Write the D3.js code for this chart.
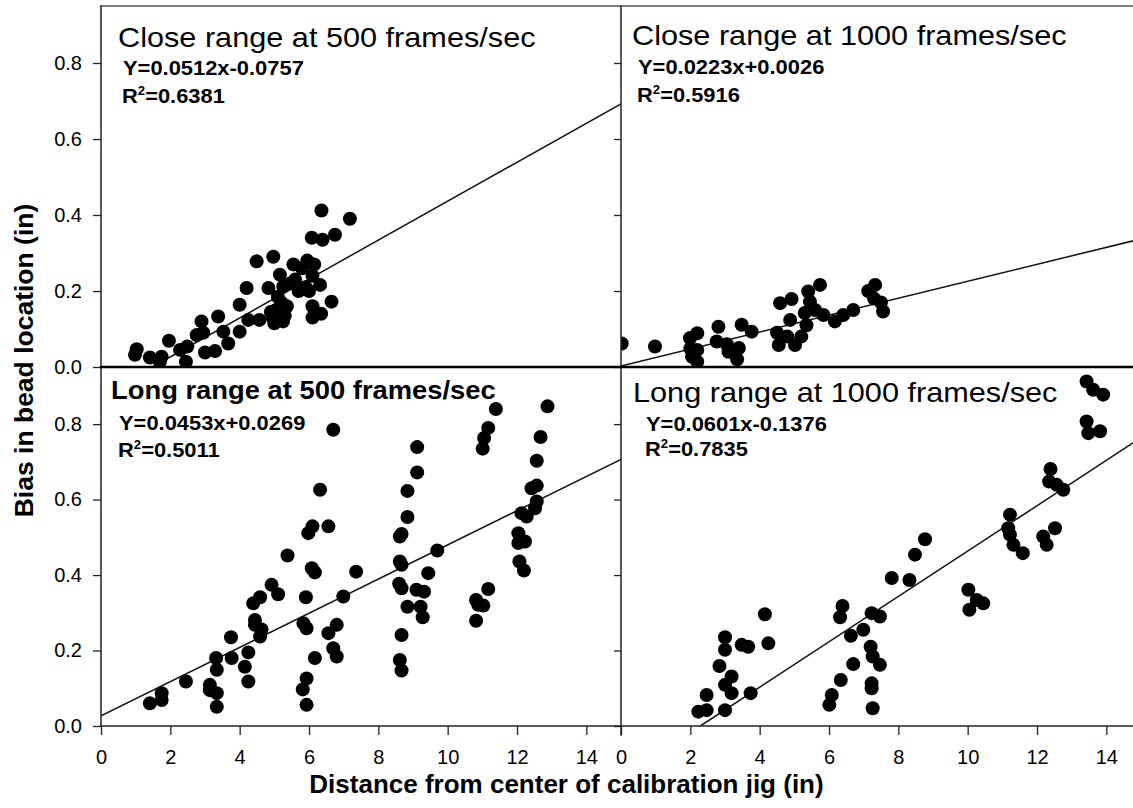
<!DOCTYPE html>
<html><head><meta charset="utf-8">
<script src="https://cdn.jsdelivr.net/npm/d3@7"></script>
<style>
body{margin:0;background:#fff;}
text{font-family:"Liberation Sans",Arial,Helvetica,sans-serif;fill:#000;}
</style>
</head><body>
<svg id="chart" width="1133" height="808"></svg>
<script>
// ---------------- DATA ----------------
const panelTitles = ["Close range at 500 frames/sec", "Close range at 1000 frames/sec",
                     "Long range at 500 frames/sec", "Long range at 1000 frames/sec"];
const equationLabels = ["Y=0.0512x-0.0757", "Y=0.0223x+0.0026", "Y=0.0453x+0.0269", "Y=0.0601x-0.1376"];
const r2Labels = ["=0.6381", "=0.5916", "=0.5011", "=0.7835"];
const slopes = [0.0512, 0.0223, 0.0453, 0.0601];
const intercepts = [-0.0757, 0.0026, 0.0269, -0.1376];
const xTicks = [0, 2, 4, 6, 8, 10, 12, 14];
const yTicks = [0, 0.2, 0.4, 0.6, 0.8];
const xTitle = "Distance from center of calibration jig (in)";
const yTitle = "Bias in bead location (in)";

const closeRange500 = [
 [0.98,0.032],[1.03,0.047],[1.41,0.025],[1.70,0.014],[1.75,0.027],[1.96,0.069],[2.28,0.045],[2.45,0.014],
 [2.49,0.054],[2.76,0.084],[2.90,0.12],[2.95,0.09],[3.0,0.038],[3.29,0.042],[3.38,0.133],[3.53,0.093],
 [3.67,0.062],[4.0,0.093],[4.0,0.164],[4.2,0.208],[4.25,0.124],[4.49,0.278],[4.57,0.124],[4.83,0.208],
 [4.97,0.29],[4.95,0.13],[5.0,0.115],[5.05,0.15],[5.16,0.243],[5.26,0.212],[5.36,0.16],[5.3,0.135],
 [5.25,0.12],[5.55,0.27],[5.6,0.23],[5.7,0.2],[5.8,0.26],[5.95,0.28],[6.1,0.24],[6.15,0.27],[5.9,0.21],
 [6.0,0.2],[6.1,0.16],[6.1,0.13],[6.35,0.14],[6.08,0.34],[6.39,0.335],[6.75,0.348],[6.36,0.412],[7.18,0.39],
 [6.32,0.216],[6.65,0.172],[5.1,0.185],[5.2,0.17],[4.9,0.145],[5.45,0.22]
];
const closeRange1000 = [
 [0.02,0.062],[0.98,0.054],[1.99,0.076],[2.2,0.089],[2.0,0.049],[2.2,0.045],[2.05,0.027],[2.2,0.014],
 [2.81,0.106],[2.76,0.067],[3.05,0.06],[3.1,0.04],[3.4,0.05],[3.35,0.02],[3.48,0.111],[3.77,0.093],
 [4.59,0.168],[4.92,0.179],[4.5,0.09],[4.55,0.058],[4.8,0.08],[4.88,0.124],[5.02,0.058],[5.2,0.08],
 [5.4,0.199],[5.74,0.216],[5.45,0.172],[5.3,0.142],[5.35,0.11],[5.6,0.15],[5.84,0.137],[6.17,0.12],
 [6.41,0.137],[6.7,0.15],[7.13,0.2],[7.33,0.216],[7.3,0.18],[7.5,0.17],[7.56,0.146]
];
const longRange500 = [
 [1.41,0.06],[1.75,0.087],[1.75,0.069],[2.45,0.118],[3.32,0.18],[3.34,0.149],[3.14,0.109],[3.14,0.095],
 [3.34,0.087],[3.34,0.051],[3.75,0.235],[3.77,0.18],[4.25,0.195],[4.15,0.157],[4.25,0.118],[4.39,0.325],
 [4.59,0.341],[4.44,0.281],[4.44,0.268],[4.63,0.256],[4.59,0.237],[4.92,0.374],[5.11,0.349],[5.38,0.452],
 [5.91,0.341],[5.84,0.272],[5.93,0.259],[5.98,0.511],[6.1,0.529],[6.08,0.418],[6.17,0.407],[6.32,0.626],
 [6.56,0.529],[6.7,0.785],[5.93,0.126],[5.82,0.097],[5.93,0.056],[6.17,0.18],[6.56,0.246],[6.8,0.268],
 [6.7,0.206],[6.8,0.184],[6.99,0.343],[7.36,0.409],
 [8.62,0.502],[8.67,0.509],[8.62,0.436],[8.67,0.427],[8.6,0.377],[8.67,0.365],[8.84,0.316],[8.67,0.241],
 [8.62,0.175],[8.67,0.147],[8.84,0.554],[8.84,0.623],[9.12,0.672],[9.12,0.739],[9.1,0.361],[9.32,0.356],
 [9.22,0.316],[9.28,0.288],[9.44,0.405],[9.7,0.465],[10.82,0.334],[10.88,0.321],[11.03,0.319],[10.82,0.279],
 [11.17,0.363],[11.01,0.735],[11.05,0.763],[11.17,0.79],[11.39,0.84],[12.04,0.511],[12.04,0.485],[12.23,0.489],
 [12.07,0.436],[12.2,0.412],[12.13,0.564],[12.28,0.555],[12.52,0.577],[12.57,0.595],[12.42,0.63],[12.57,0.637],
 [12.57,0.703],[12.68,0.766],[12.88,0.847]
];
const longRange1000 = [
 [2.23,0.038],[2.47,0.042],[2.47,0.082],[2.84,0.159],[3.0,0.235],[3.0,0.202],[3.0,0.109],[3.19,0.131],
 [3.19,0.087],[3.0,0.042],[3.48,0.215],[3.67,0.21],[3.74,0.087],[4.15,0.296],[4.25,0.219],[6.01,0.056],
 [6.08,0.082],[6.34,0.122],[6.39,0.318],[6.32,0.288],[6.63,0.239],[6.7,0.164],[6.99,0.255],[7.23,0.299],
 [7.47,0.29],[7.2,0.21],[7.26,0.184],[7.47,0.162],[7.23,0.113],[7.23,0.1],[7.26,0.047],[7.81,0.392],
 [8.32,0.387],[8.48,0.454],[8.77,0.495],[10.02,0.361],[10.26,0.334],[10.45,0.325],[10.05,0.308],[11.22,0.56],
 [11.17,0.524],[11.22,0.507],[11.32,0.48],[11.59,0.458],[12.18,0.502],[12.28,0.48],[12.52,0.524],[12.39,0.681],
 [12.35,0.648],[12.57,0.639],[12.76,0.626],[13.43,0.807],[13.48,0.776],[13.82,0.781],[13.43,0.913],[13.62,0.891],
 [13.91,0.878]
];
const panelData = [closeRange500, closeRange1000, longRange500, longRange1000];

// ---------------- LAYOUT ----------------
const svg = d3.select("#chart");
const xLeft = [101, 621], xWidth = 520;
const yRanges = [[367, 6], [726, 367.5]];
const fontFam = '"Liberation Sans",Arial,Helvetica,sans-serif';
const sx = 1.095; // horizontal stretch of annotation text

const panels = [
  {col:0,row:0, tx:118, ty:47, tBold:false, tSize:28, ex:123, ey:75, ry:103},
  {col:1,row:0, tx:632, ty:45, tBold:false, tSize:28, ex:638, ey:74, ry:102},
  {col:0,row:1, tx:111, ty:399, tBold:true, tSize:25, ex:119, ey:430, ry:457},
  {col:1,row:1, tx:633, ty:402, tBold:false, tSize:28, ex:646, ey:430.5, ry:456}
];

const defs = svg.append("defs");

panels.forEach((p, i) => {
  const x = d3.scaleLinear().domain([0, 15]).range([xLeft[p.col], xLeft[p.col] + xWidth]);
  const y = d3.scaleLinear().domain([0, 0.95]).range(yRanges[p.row]);
  const clipId = "clip" + i;
  defs.append("clipPath").attr("id", clipId).append("rect")
    .attr("x", x(0)).attr("y", y(0.95)).attr("width", xWidth).attr("height", y(0) - y(0.95));

  const g = svg.append("g").attr("clip-path", `url(#${clipId})`);
  // regression line
  const m = slopes[i], b = intercepts[i];
  const x0 = Math.max(0, -b / m);
  g.append("line")
    .attr("x1", x(x0)).attr("y1", y(m * x0 + b))
    .attr("x2", x(15)).attr("y2", y(m * 15 + b))
    .attr("stroke", "#111").attr("stroke-width", 1.5);
  // points
  g.selectAll("circle").data(panelData[i]).join("circle")
    .attr("cx", d => x(d[0])).attr("cy", d => y(d[1])).attr("r", 7).attr("fill", "#000");

  // y axis ticks
  const yAxis = d3.axisLeft(y).tickValues(yTicks).tickSizeOuter(0)
    .tickSize(p.col === 0 ? 8 : 7).tickPadding(11)
    .tickFormat(p.col === 0 ? d3.format(".1f") : () => "");
  const ya = svg.append("g").attr("transform", `translate(${x(0)},0)`).call(yAxis);
  ya.select(".domain").remove();
  ya.selectAll("line").attr("stroke", "#222").attr("stroke-width", 1.3);
  ya.selectAll("text").attr("font-size", 20).attr("font-family", fontFam).attr("fill", "#111");

  if (p.row === 1) {
    const xAxis = d3.axisBottom(x).tickValues(xTicks).tickSizeOuter(0).tickSize(9).tickPadding(15)
      .tickFormat(d3.format("d"));
    const xa = svg.append("g").attr("transform", `translate(0,${y(0)})`).call(xAxis);
    xa.select(".domain").remove();
    xa.selectAll("line").attr("stroke", "#222").attr("stroke-width", 1.3);
    xa.selectAll("text").attr("font-size", 20).attr("font-family", fontFam).attr("fill", "#111");
  }

  // annotations
  svg.append("text").attr("transform", `translate(${p.tx},${p.ty}) scale(${sx},1)`)
    .attr("font-size", p.tSize).attr("font-weight", p.tBold ? "bold" : "normal")
    .text(panelTitles[i]);
  svg.append("text").attr("transform", `translate(${p.ex},${p.ey}) scale(${sx},1)`)
    .attr("font-size", 20).attr("font-weight", "bold").text(equationLabels[i]);
  const r = svg.append("text").attr("transform", `translate(${p.ex - 1},${p.ry}) scale(${sx},1)`)
    .attr("font-size", 20).attr("font-weight", "bold");
  r.append("tspan").text("R");
  r.append("tspan").attr("font-size", 12).attr("dy", -8).text("2");
  r.append("tspan").attr("dy", 8).text(r2Labels[i]);
});

// frame lines
const frame = svg.append("g").attr("stroke-linecap", "square");
frame.append("line").attr("x1", 101).attr("x2", 1133).attr("y1", 6).attr("y2", 6)
  .attr("stroke", "#555").attr("stroke-width", 1.6);
frame.append("line").attr("x1", 101).attr("x2", 101).attr("y1", 6).attr("y2", 726)
  .attr("stroke", "#222").attr("stroke-width", 1.5);
frame.append("line").attr("x1", 621).attr("x2", 621).attr("y1", 6).attr("y2", 735)
  .attr("stroke", "#222").attr("stroke-width", 1.5);
frame.append("line").attr("x1", 101).attr("x2", 1133).attr("y1", 367).attr("y2", 367)
  .attr("stroke", "#000").attr("stroke-width", 2.4);
frame.append("line").attr("x1", 101).attr("x2", 1133).attr("y1", 726).attr("y2", 726)
  .attr("stroke", "#222").attr("stroke-width", 1.5);

// axis titles
svg.append("text").attr("x", 566.5).attr("y", 793).attr("text-anchor", "middle")
  .attr("font-size", 26).attr("font-weight", "bold").text(xTitle);
svg.append("text").attr("transform", "translate(33,360.5) rotate(-90)").attr("text-anchor", "middle")
  .attr("font-size", 26.5).attr("font-weight", "bold").text(yTitle);
</script>
</body></html>
